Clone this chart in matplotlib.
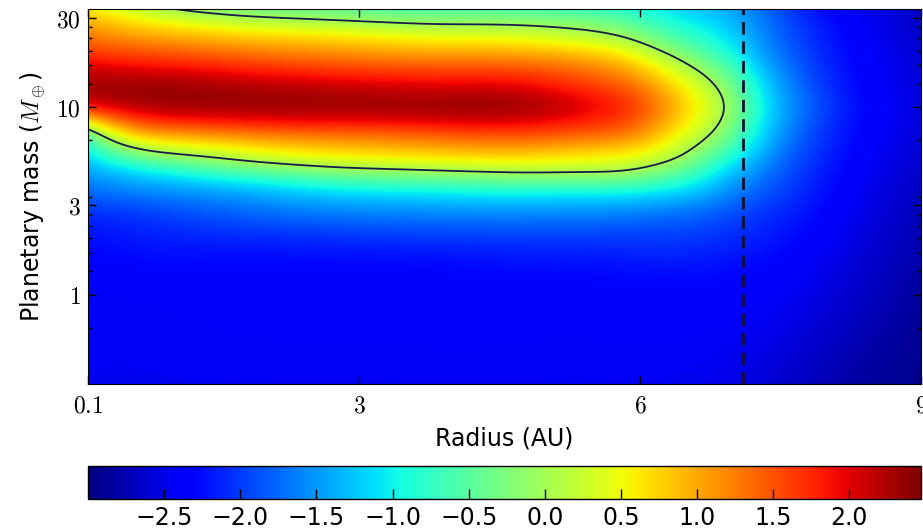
import numpy as np
import matplotlib
matplotlib.use('Agg')
import matplotlib.pyplot as plt
import matplotlib.tri as mtri
from matplotlib.ticker import FixedLocator, NullFormatter

plt.rcParams['mathtext.fontset'] = 'cm'
plt.rcParams['font.size'] = 17

# grid: radius (AU) across, planetary mass (Earth masses) down
radius = [0.1, 0.5, 1, 2, 3, 4, 5, 5.5, 6, 6.25, 6.5, 6.75, 7, 7.25, 7.5, 8, 8.5, 9]
mass = [1/3, 1, 2, 3, 3.7, 4.5, 5.5, 6.5, 8, 10, 12.5, 16, 20, 25, 30, 100/3]

# one row per mass, one column per radius
torque = np.array([
    [-2.45, -2.45, -2.45, -2.45, -2.45, -2.45, -2.45, -2.45, -2.45, -2.45, -2.45, -2.47, -2.50, -2.55, -2.62, -2.75, -2.88, -2.92],
    [-2.40, -2.40, -2.38, -2.37, -2.37, -2.36, -2.35, -2.35, -2.33, -2.33, -2.33, -2.34, -2.36, -2.38, -2.42, -2.55, -2.70, -2.85],
    [-2.25, -2.20, -2.15, -2.10, -2.05, -2.02, -2.00, -2.00, -2.00, -2.00, -2.00, -2.05, -2.10, -2.15, -2.22, -2.40, -2.60, -2.75],
    [-1.95, -1.90, -1.80, -1.60, -1.45, -1.40, -1.38, -1.40, -1.45, -1.50, -1.55, -1.65, -1.80, -1.95, -2.05, -2.30, -2.53, -2.70],
    [-1.70, -1.55, -1.45, -1.20, -0.95, -0.85, -0.80, -0.80, -0.85, -0.95, -1.05, -1.30, -1.55, -1.75, -1.93, -2.25, -2.50, -2.66],
    [-1.45, -1.20, -0.95, -0.50, -0.20, -0.05, 0.05, 0.03, -0.10, -0.35, -0.55, -0.95, -1.30, -1.55, -1.82, -2.20, -2.47, -2.63],
    [-1.10, -0.50, -0.10, 0.35, 0.60, 0.70, 0.70, 0.60, 0.45, 0.25, -0.02, -0.50, -0.90, -1.35, -1.70, -2.15, -2.43, -2.60],
    [-0.75, 0.25, 0.60, 0.90, 1.05, 1.20, 1.20, 1.10, 0.90, 0.60, 0.20, -0.10, -0.60, -1.15, -1.58, -2.10, -2.40, -2.58],
    [0.25, 1.20, 1.55, 1.70, 1.75, 1.85, 1.80, 1.65, 1.35, 0.95, 0.55, 0.18, -0.28, -1.00, -1.47, -2.05, -2.37, -2.56],
    [1.80, 2.10, 2.25, 2.30, 2.30, 2.33, 2.20, 1.95, 1.55, 1.15, 0.70, 0.32, -0.12, -0.90, -1.40, -2.00, -2.35, -2.55],
    [2.30, 2.35, 2.35, 2.25, 2.15, 2.10, 1.95, 1.70, 1.35, 0.95, 0.55, 0.18, -0.28, -1.00, -1.47, -2.05, -2.37, -2.56],
    [2.10, 2.00, 1.95, 1.75, 1.60, 1.55, 1.45, 1.25, 0.85, 0.50, 0.12, -0.20, -0.65, -1.18, -1.60, -2.10, -2.40, -2.58],
    [1.60, 1.50, 1.40, 1.20, 1.05, 0.95, 0.85, 0.70, 0.30, -0.05, -0.35, -0.68, -1.00, -1.40, -1.72, -2.15, -2.42, -2.60],
    [1.20, 1.00, 0.85, 0.60, 0.45, 0.30, 0.20, 0.05, -0.30, -0.60, -0.80, -1.00, -1.20, -1.50, -1.80, -2.20, -2.45, -2.63],
    [0.85, 0.60, 0.30, 0.00, -0.15, -0.25, -0.30, -0.40, -0.70, -0.90, -1.05, -1.20, -1.35, -1.60, -1.87, -2.25, -2.48, -2.65],
    [0.60, 0.35, 0.00, -0.30, -0.45, -0.55, -0.60, -0.70, -0.90, -1.05, -1.20, -1.30, -1.40, -1.65, -1.90, -2.30, -2.50, -2.67],
])

vmin, vmax = -3.0, 2.47
snow_line = 7.1

x_ticks = [0.1, 3, 6, 9]
y_ticks = [1, 3, 10, 30]
y_minor = [2/3, 4/3, 5/3, 2, 7/3, 8/3, 10/3, 20/3, 40/3, 50/3, 20, 70/3, 80/3]
cbar_ticks = [-2.5, -2.0, -1.5, -1.0, -0.5, 0.0, 0.5, 1.0, 1.5, 2.0]


def smooth(z, sigma, axis):
    # small gaussian blur, odd reflection keeps the trend at the edges
    half = int(3 * sigma)
    k = np.exp(-0.5 * (np.arange(-half, half + 1) / sigma) ** 2)
    k /= k.sum()
    pad = [(0, 0), (0, 0)]
    pad[axis] = (half, half)
    zp = np.pad(z, pad, mode='reflect', reflect_type='odd')
    return np.apply_along_axis(lambda v: np.convolve(v, k, mode='valid'), axis, zp)


# triangulate the grid in (radius, log mass); a cubic interpolator smooths it for drawing
nr, nm = len(radius), len(mass)
R, M = np.meshgrid(radius, mass)
idx = np.arange(nr * nm).reshape(nm, nr)
a, b = idx[:-1, :-1].ravel(), idx[:-1, 1:].ravel()
c, d = idx[1:, :-1].ravel(), idx[1:, 1:].ravel()
triangles = np.concatenate([np.column_stack([a, b, d]), np.column_stack([a, d, c])])
stretch = 4.5
tri = mtri.Triangulation(R.ravel(), np.log10(M).ravel() * stretch, triangles)
interp = mtri.CubicTriInterpolator(tri, torque.ravel(), kind='min_E')

rf = np.linspace(radius[0], radius[-1], 400)
lf = np.linspace(tri.y.min(), tri.y.max(), 260)
RF, LF = np.meshgrid(rf, lf)
ZF = np.ma.filled(interp(RF, LF), np.nan)
ZF = smooth(smooth(ZF, 9, 1), 5, 0)
MF = 10 ** (LF / stretch)

fig = plt.figure(figsize=(9.23, 5.29), dpi=100)
ax = fig.add_axes([88/923, 1 - 384/529, 833/923, 375/529])
cax = fig.add_axes([88/923, 1 - 499/529, 833/923, 33/529])

im = ax.pcolormesh(RF, MF, ZF, shading='gouraud', cmap='jet', vmin=vmin, vmax=vmax)
ax.contour(RF, MF, ZF, levels=[0.0], colors='#1b1b48', linewidths=1.3)
ax.axvline(snow_line, color='#101030', lw=2, dashes=(4.5, 2.5))

ax.set_yscale('log')
ax.set_xlim(radius[0], radius[-1])
ax.set_ylim(mass[0], mass[-1])
ax.set_xticks(x_ticks, [f'${t:g}$' for t in x_ticks])
ax.yaxis.set_major_locator(FixedLocator(y_ticks))
ax.set_yticklabels([f'${t:g}$' for t in y_ticks])
ax.yaxis.set_minor_locator(FixedLocator(y_minor))
ax.yaxis.set_minor_formatter(NullFormatter())
ax.tick_params(which='both', direction='in', top=True, right=True, width=1)
ax.tick_params(which='major', length=6)
ax.tick_params(which='minor', length=3)
ax.tick_params(axis='x', pad=7)
ax.tick_params(axis='y', pad=5)
ax.set_xlabel('Radius (AU)', labelpad=6)
ax.set_ylabel(r'Planetary mass ($M_\oplus$)', labelpad=6)

cbar = fig.colorbar(im, cax=cax, orientation='horizontal')
cbar.set_ticks(cbar_ticks)
cax.tick_params(direction='in', length=7, width=1, pad=5)
cbar.outline.set_linewidth(1)

fig.savefig('out.png', dpi=100)
